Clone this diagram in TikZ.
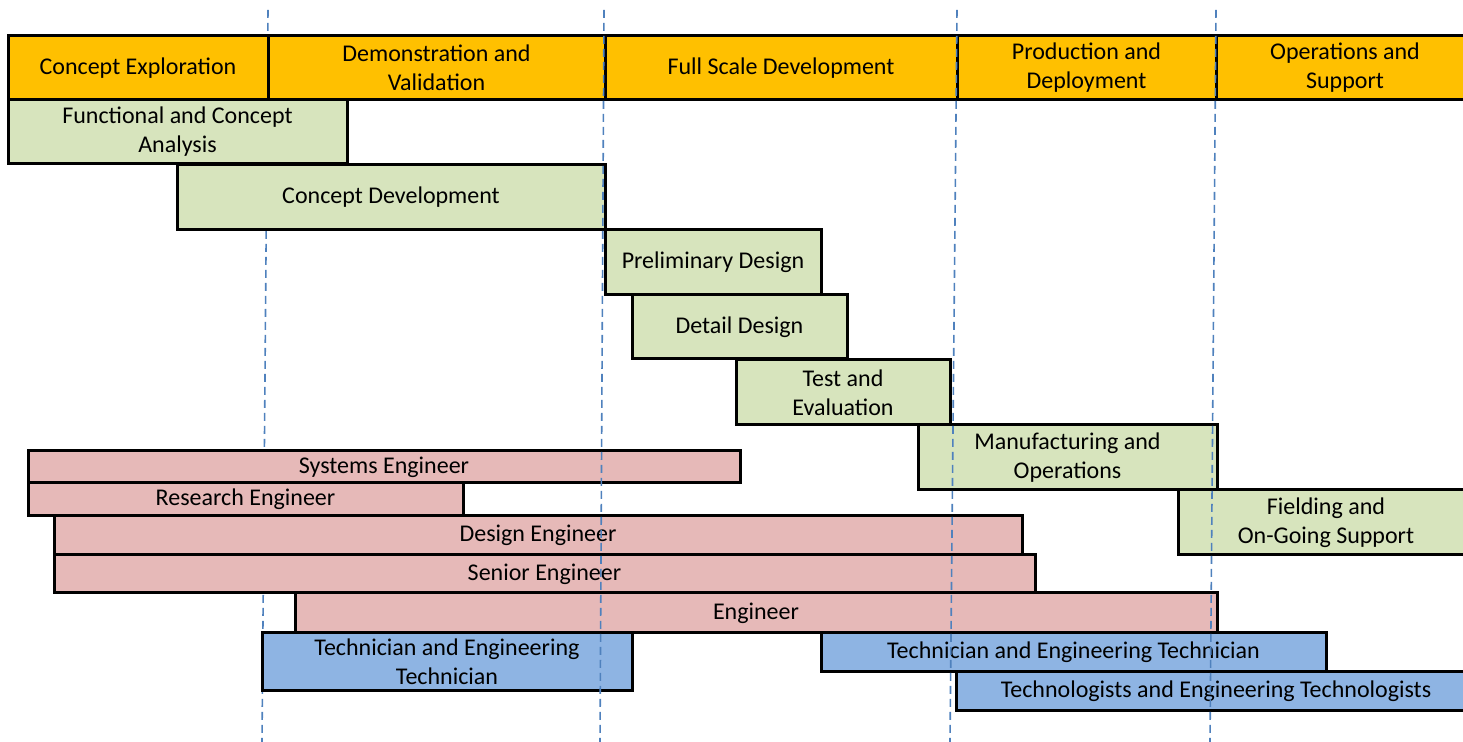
\documentclass[tikz,border=0pt]{standalone}
\usepackage{fontspec}
\setmainfont{Carlito}
\usepackage{tikz}

\definecolor{phaseorange}{HTML}{FFC000}
\definecolor{taskgreen}{HTML}{D7E4BD}
\definecolor{rolepink}{HTML}{E6B9B8}
\definecolor{techblue}{HTML}{8EB4E3}
\definecolor{lineblue}{HTML}{4F81BD}

\begin{document}
\begin{tikzpicture}[x=0.5pt,y=-0.5pt,
  bar/.style={draw=black,line width=1.5pt,align=center,inner sep=0pt,
    font=\fontsize{12}{14.5}\selectfont},
  phase/.style={bar,fill=phaseorange},
  task/.style={bar,fill=taskgreen},
  role/.style={bar,fill=rolepink},
  tech/.style={bar,fill=techblue},
  phaseline/.style={lineblue,line width=0.8pt,dash pattern=on 4pt off 2.5pt}]

\useasboundingbox (0,0) rectangle (1463,742);
\clip (0,0) rectangle (1463,742);

% first phase boundary sits behind the bars
\coordinate (top1) at (268,10);
\coordinate (bot1) at (262,742);
\draw[phaseline] (top1) -- (bot1);

% life cycle phases
\foreach \name/\xa/\ya/\xb/\yb/\txt in {
    concept/8/36/268/100/{Concept Exploration},
    demo/268/36/605/100/{Demonstration and\\Validation},
    fullscale/605/36/957/100/{Full Scale Development},
    production/957/36/1216/100/{Production and\\Deployment},
    operations/1216/36/1474/100/{Operations and\\Support}}{
    \node[phase, minimum width={(\xb-\xa)*0.5pt}, minimum height={(\yb-\ya)*0.5pt}]
        (\name) at ({(\xa+\xb)/2},{(\ya+\yb)/2}) {\txt};
}

% activities
\foreach \name/\xa/\ya/\xb/\yb/\txt in {
    fca/8/100/347/164/{Functional and Concept\\Analysis},
    cdev/177/165/605/230/{Concept Development},
    prelim/605/230/821/295/{Preliminary Design},
    detail/632/295/847/359/{Detail Design},
    testeval/736/360/950/425/{Test and\\Evaluation},
    manuf/918/425/1217/490/{Manufacturing and\\Operations},
    fielding/1178/490/1474/555/{Fielding and\\On-Going Support}}{
    \node[task, minimum width={(\xb-\xa)*0.5pt}, minimum height={(\yb-\ya)*0.5pt}]
        (\name) at ({(\xa+\xb)/2},{(\ya+\yb)/2}) {\txt};
}

% engineers
\foreach \name/\xa/\ya/\xb/\yb/\txt in {
    syseng/28/451/740/483/{Systems Engineer},
    reseng/28/483/463/516/{Research Engineer},
    deseng/54/516/1022/555/{Design Engineer},
    sreng/54/555/1035/593/{Senior Engineer},
    eng/295/593/1217/633/{Engineer}}{
    \node[role, minimum width={(\xb-\xa)*0.5pt}, minimum height={(\yb-\ya)*0.5pt}]
        (\name) at ({(\xa+\xb)/2},{(\ya+\yb)/2}) {\txt};
}

% technicians
\foreach \name/\xa/\ya/\xb/\yb/\txt in {
    techa/262/633/632/691/{Technician and Engineering\\Technician},
    techb/821/633/1326/672/{Technician and Engineering Technician},
    techno/956/672/1476/711/{Technologists and Engineering Technologists}}{
    \node[tech, minimum width={(\xb-\xa)*0.5pt}, minimum height={(\yb-\ya)*0.5pt}]
        (\name) at ({(\xa+\xb)/2},{(\ya+\yb)/2}) {\txt};
}

% other phase boundaries on top
\foreach \n/\xt/\xb in {2/604/600, 3/957/950, 4/1216/1210}{
    \coordinate (top\n) at (\xt,10);
    \coordinate (bot\n) at (\xb,742);
    \draw[phaseline] (top\n) -- (bot\n);
}

\end{tikzpicture}
\end{document}
